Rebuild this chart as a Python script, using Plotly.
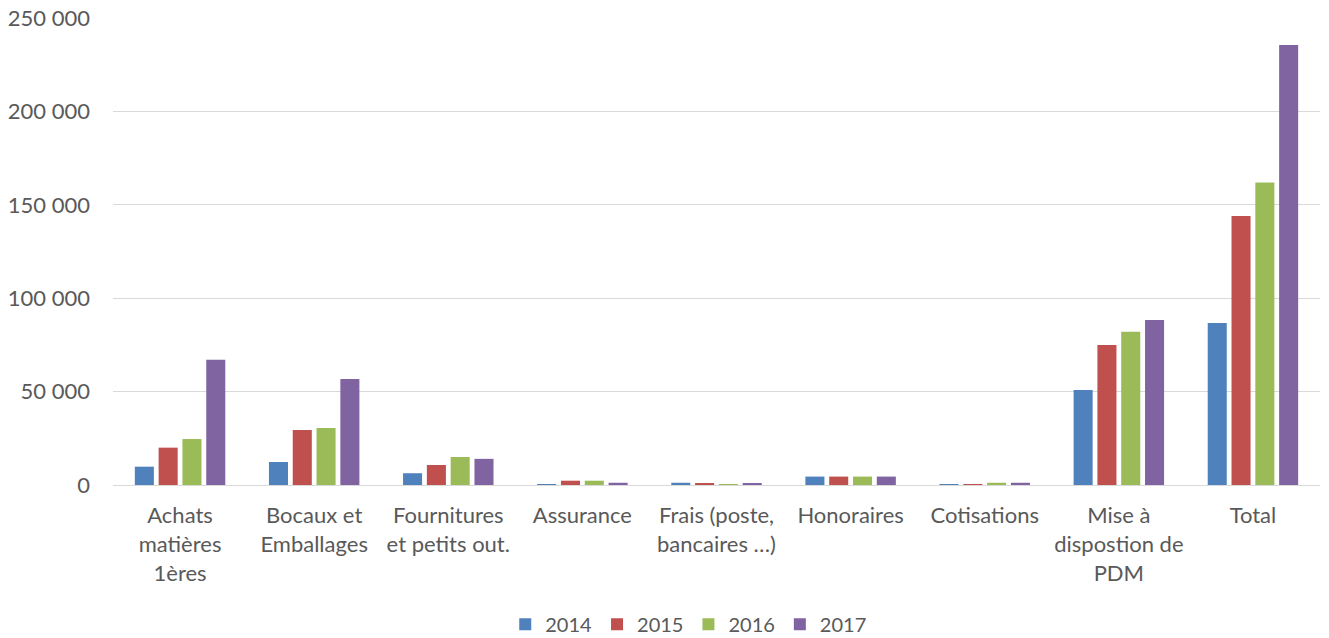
import plotly.graph_objects as go

categories = ["Achats<br>matières<br>1ères", "Bocaux et<br>Emballages", "Fournitures<br>et petits out.",
              "Assurance", "Frais (poste,<br>bancaires …)", "Honoraires", "Cotisations",
              "Mise à<br>dispostion de<br>PDM", "Total"]
years = ["2014", "2015", "2016", "2017"]
v2014 = [9800, 12300, 6300, 500, 1200, 4500, 300, 50800, 86700]
v2015 = [20000, 29500, 10700, 2300, 800, 4500, 200, 75000, 144000]
v2016 = [24600, 30500, 15000, 2300, 400, 4500, 1200, 82000, 162000]
v2017 = [67000, 56700, 14000, 1200, 800, 4500, 1200, 88300, 235500]
series = [v2014, v2015, v2016, v2017]
colors = ["#4F81BD", "#C0504D", "#9BBB59", "#8064A2"]

fig = go.Figure()
for name, vals, col in zip(years, series, colors):
    fig.add_trace(go.Bar(x=categories, y=vals, name=name, marker_color=col,
                         marker_line_width=0))

font = dict(family="Lato, Open Sans, sans-serif", size=22, color="#595959")
legend_font = dict(family="Lato, Open Sans, sans-serif", size=20, color="#595959")
fig.update_layout(
    width=1329, height=638,
    margin=dict(l=113, r=9, t=18, b=153, autoexpand=False),
    paper_bgcolor="white", plot_bgcolor="white",
    font=font,
    separators=", ",
    barmode="group", bargap=0.29, bargroupgap=0.2,
    legend=dict(orientation="h", x=0.477, xanchor="center", y=-0.298, yanchor="middle",
                font=legend_font, traceorder="normal"),
    xaxis=dict(showgrid=False, showline=True, linecolor="#D9D9D9", linewidth=1,
               ticks="", tickfont=font, tickangle=0, automargin=False,
               ticklabelstandoff=11),
    yaxis=dict(range=[0, 250000], dtick=50000, tickformat=",d", showgrid=True,
               gridcolor="#D9D9D9", gridwidth=1, zeroline=False, showline=False,
               ticks="", tickfont=font, ticklabelstandoff=22, automargin=False,
               ticklabeloverflow="allow"),
)
fig.write_html("out.html", config={"displayModeBar": False},
               post_script="document.body.style.margin='0px';")
